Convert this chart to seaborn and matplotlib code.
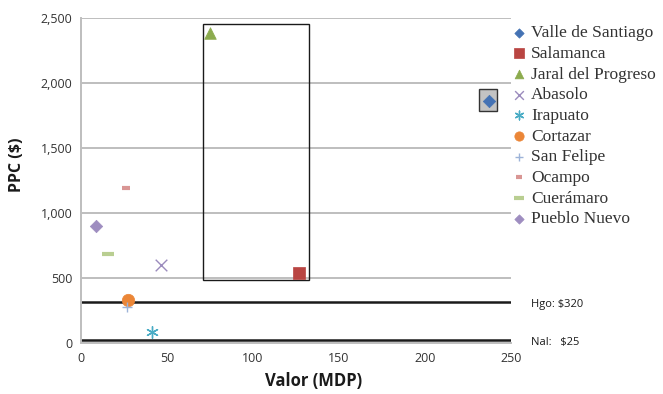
import matplotlib
matplotlib.use("Agg")
import matplotlib.pyplot as plt
from matplotlib.patches import Rectangle
import seaborn as sns
import pandas as pd

# Municipal data: value (millions of pesos) vs. per-capita spending
municipios = ["Valle de Santiago", "Salamanca", "Jaral del Progreso", "Abasolo",
              "Irapuato", "Cortazar", "San Felipe", "Ocampo", "Cuerámaro",
              "Pueblo Nuevo"]
valor_mdp = [237, 127, 75, 46.5, 41.5, 27.5, 27, 26, 16, 9]
ppc = [1860, 540, 2385, 600, 85, 330, 280, 1190, 685, 900]

# Reference levels
ref_labels = ["Hgo: $320", "Nal:   $25"]
ref_values = [320, 25]

colores = ["#4472B4", "#B94542", "#8CAB4E", "#9B8BBD", "#4AACC5",
           "#EB8637", "#9DB3D8", "#D99694", "#B9CE91", "#9E8DC0"]
marcadores = ["D", "s", "^", "x", (6, 2, 0), "o", "+", "_", "_", "D"]
tamanos = [40, 80, 70, 70, 70, 80, 60, 30, 80, 40]

df = pd.DataFrame({"Municipio": municipios, "Valor": valor_mdp, "PPC": ppc})

sns.set_style("white")
fig = plt.figure(figsize=(6.63, 3.94), dpi=100)
ax = fig.add_axes([0.122, 0.129, 0.649, 0.825])

ax.set_xlim(0, 250)
ax.set_ylim(0, 2500)
ax.set_yticks([0, 500, 1000, 1500, 2000, 2500])
ax.set_xticks([0, 50, 100, 150, 200, 250])
ax.yaxis.set_major_formatter(matplotlib.ticker.StrMethodFormatter("{x:,.0f}"))
ax.grid(axis="y", color="#BEBEBE", linewidth=1.4)
ax.set_axisbelow(True)
for side in ["top", "right"]:
    ax.spines[side].set_visible(False)
for side in ["left", "bottom"]:
    ax.spines[side].set_color("#BEBEBE")
    ax.spines[side].set_linewidth(1.4)
ax.tick_params(length=0, labelsize=9, labelcolor="#333333", pad=6)
for lab in ax.get_xticklabels() + ax.get_yticklabels():
    lab.set_family("Open Sans")

# Reference lines
for v in ref_values:
    ax.axhline(v, color="#1A1A1A", linewidth=1.8, zorder=2)
for lbl, v in zip(ref_labels, ref_values):
    ax.annotate(lbl, xy=(1.0, v), xycoords=("axes fraction", "data"),
                xytext=(14, -2), textcoords="offset points",
                va="center", ha="left", fontsize=8, family="Open Sans",
                color="#1A1A1A", annotation_clip=False)

# Highlight boxes
ax.add_patch(Rectangle((71, 485), 61.5, 1970, fill=False,
                       edgecolor="#1A1A1A", linewidth=1.0, zorder=3))
ax.add_patch(Rectangle((231.5, 1785), 10.5, 170, facecolor="#C3C3C3",
                       edgecolor="#333333", linewidth=1.0, zorder=3))

# Scatter points, one series per municipality
for i, row in df.iterrows():
    m = marcadores[i]
    filled = m not in ["x", "+", "_", (6, 2, 0)]
    kws = dict(marker=m, s=tamanos[i], color=colores[i], label=row["Municipio"],
               zorder=5)
    if filled:
        kws["edgecolor"] = colores[i]
        kws["linewidth"] = 0.5
    else:
        kws["linewidth"] = 3 if m == "_" else 1.0
    sns.scatterplot(x=[row["Valor"]], y=[row["PPC"]], ax=ax, **kws)

ax.set_xlabel("Valor (MDP)", fontsize=12, fontweight="bold", family="Open Sans",
              color="#1A1A1A")
ax.xaxis.set_label_coords(0.54, -0.09)
ax.set_ylabel("PPC ($)", fontsize=11.5, fontweight="bold", family="Open Sans",
              color="#1A1A1A")
ax.yaxis.set_label_coords(-0.13, 0.55)

handles, labels = ax.get_legend_handles_labels()
leg = ax.legend(handles, labels, loc="upper left", bbox_to_anchor=(0.98, 1.0),
                frameon=False, prop={"family": "Liberation Serif", "size": 12.5},
                handletextpad=0.15, labelspacing=0.26, markerscale=0.75,
                borderaxespad=0, handlelength=1.1)
for t in leg.get_texts():
    t.set_color("#333333")

fig.savefig("out.png", dpi=100)
